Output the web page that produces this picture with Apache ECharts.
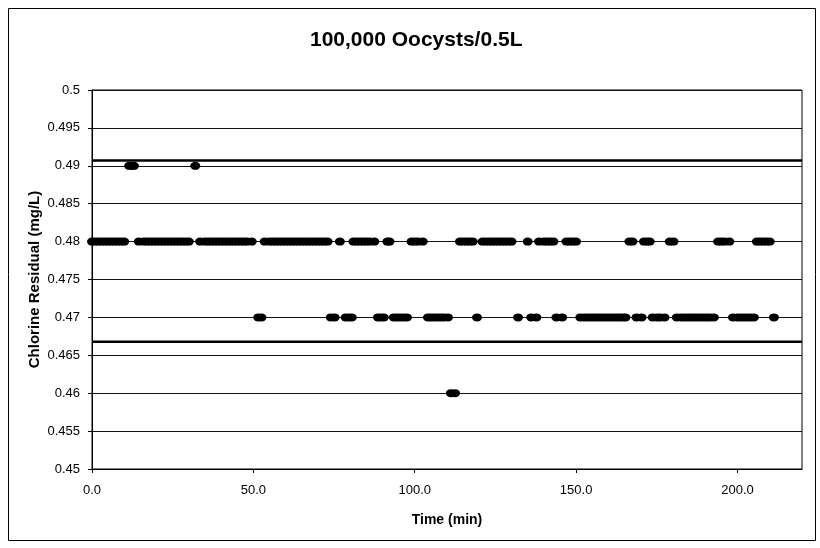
<!DOCTYPE html>
<html>
<head>
<meta charset="utf-8">
<script src="https://cdn.jsdelivr.net/npm/echarts@6/dist/echarts.min.js"></script>
<style>
html,body{margin:0;padding:0;background:#fff;}
#chart{width:820px;height:548px;}
</style>
</head>
<body>
<div id="chart"></div>
<script>
// Chart texts
const titleText = '100,000 Oocysts/0.5L';
const xAxisTitle = 'Time (min)';
const yAxisTitle = 'Chlorine Residual (mg/L)';

// Residual levels and the times (min) at which each level was recorded
const level049 = 0.49;
const times049 = [11.5, 12.3, 13, 32];

const level048 = 0.48;
const times048 = [
  0, 1, 2, 3, 4, 5, 6, 7, 8, 9, 10,
  14.5, 16, 17, 18, 19, 20, 21, 22, 23, 24, 25, 26, 27, 28, 29, 30,
  33.5, 35, 36, 37, 38, 39, 40, 41, 42, 43, 44, 45, 46, 47, 48, 49.5,
  53.5, 55, 56, 57, 58, 59, 60, 61, 62, 63, 64, 65, 66, 67, 68, 69, 70, 71, 72, 73,
  76.8,
  81, 82, 83, 84, 85, 86, 87.5,
  91.5, 92.2,
  99, 100, 101, 102.5,
  114, 115, 116, 117, 118,
  121, 122, 123, 124, 125, 126, 127, 128, 129, 130,
  135,
  138.5, 140, 141, 142, 143,
  147, 148, 149, 150,
  166.5, 167.5,
  171, 172, 172.8,
  179, 180.2,
  194, 195, 196, 197.5,
  206, 207, 208, 209, 210
];

const level047 = 0.47;
const times047 = [
  51.5, 52.5,
  74, 75.2,
  78.6, 79.6, 80.5,
  88.6, 89.5, 90.4,
  93.5, 94.5, 95.5, 96.5, 97.6,
  104.1, 105, 106, 107, 108, 109, 110.3,
  119.3,
  132,
  136.1, 137.7,
  143.9, 145.7,
  151.3, 152.5, 153.5, 154.5, 155.5, 156.5, 157.5, 158.5, 159.5, 160.5, 161.5, 162.5, 163.5, 164.5, 165.3,
  168.7, 170.3,
  173.7, 175, 176, 177.4,
  181.2, 182.5, 183.5, 184.5, 185.5, 186.5, 187.5, 188.5, 189.5, 190.5, 191.5, 192.7,
  198.6, 200, 201, 202, 203, 204, 205.1,
  211.3
];

const level046 = 0.46;
const times046 = [111.2, 112.5];

// Control limits (horizontal lines)
const upperLimit = 0.4907;
const lowerLimit = 0.4668;
const xMin = 0, xMax = 220;

function pts(times, level) { return times.map(t => [t, level]); }

const allPoints = [].concat(
  pts(times049, level049),
  pts(times048, level048),
  pts(times047, level047),
  pts(times046, level046)
);

const chart = echarts.init(document.getElementById('chart'));
const font = 'Liberation Sans, Arial, sans-serif';

chart.setOption({
  animation: false,
  backgroundColor: '#fff',
  title: {
    text: titleText,
    left: 305,
    top: 25,
    textStyle: { fontFamily: font, fontSize: 21, fontWeight: 'bold', color: '#000' }
  },
  grid: {
    left: 92, right: 18, top: 90, bottom: 79,
    show: true, borderColor: '#000', borderWidth: 1, backgroundColor: 'transparent'
  },
  graphic: [{
    type: 'rect',
    shape: { x: 8.5, y: 8.5, width: 807, height: 532 },
    style: { fill: 'none', stroke: '#000', lineWidth: 1 },
    silent: true, z: -1
  }],
  xAxis: {
    type: 'value',
    min: xMin, max: xMax, interval: 50,
    name: xAxisTitle,
    nameLocation: 'middle',
    nameGap: 44,
    nameMoveOverlap: false,
    nameTextStyle: { fontFamily: font, fontSize: 14, fontWeight: 'bold', color: '#000' },
    axisLine: { show: true, lineStyle: { color: '#000', width: 1 } },
    axisTick: { show: true, inside: false, length: 4, lineStyle: { color: '#000' } },
    axisLabel: {
      fontFamily: font, fontSize: 13, color: '#000', margin: 15,
      showMaxLabel: false,
      formatter: v => (v === xMax ? '' : v.toFixed(1))
    },
    splitLine: { show: false }
  },
  yAxis: {
    type: 'value',
    min: 0.45, max: 0.5, interval: 0.005,
    name: yAxisTitle,
    nameLocation: 'middle',
    nameGap: 50,
    nameMoveOverlap: false,
    nameRotate: 90,
    nameTextStyle: { fontFamily: font, fontSize: 15, fontWeight: 'bold', color: '#000' },
    axisLine: { show: true, lineStyle: { color: '#000', width: 1 } },
    axisTick: { show: true, inside: false, length: 4, lineStyle: { color: '#000' } },
    axisLabel: {
      fontFamily: font, fontSize: 13, color: '#000', margin: 12,
      formatter: v => String(+v.toFixed(3))
    },
    splitLine: { show: true, lineStyle: { color: '#111', width: 1 } }
  },
  series: [
    {
      type: 'line',
      data: [[xMin, upperLimit], [xMax, upperLimit]],
      symbol: 'none',
      lineStyle: { color: '#000', width: 2.5 },
      silent: true, z: 3
    },
    {
      type: 'line',
      data: [[xMin, lowerLimit], [xMax, lowerLimit]],
      symbol: 'none',
      lineStyle: { color: '#000', width: 2.5 },
      silent: true, z: 3
    },
    {
      type: 'scatter',
      data: allPoints,
      symbol: 'circle',
      symbolSize: [10, 8],
      itemStyle: { color: '#000', opacity: 1 },
      z: 4
    }
  ]
});
</script>
</body>
</html>
